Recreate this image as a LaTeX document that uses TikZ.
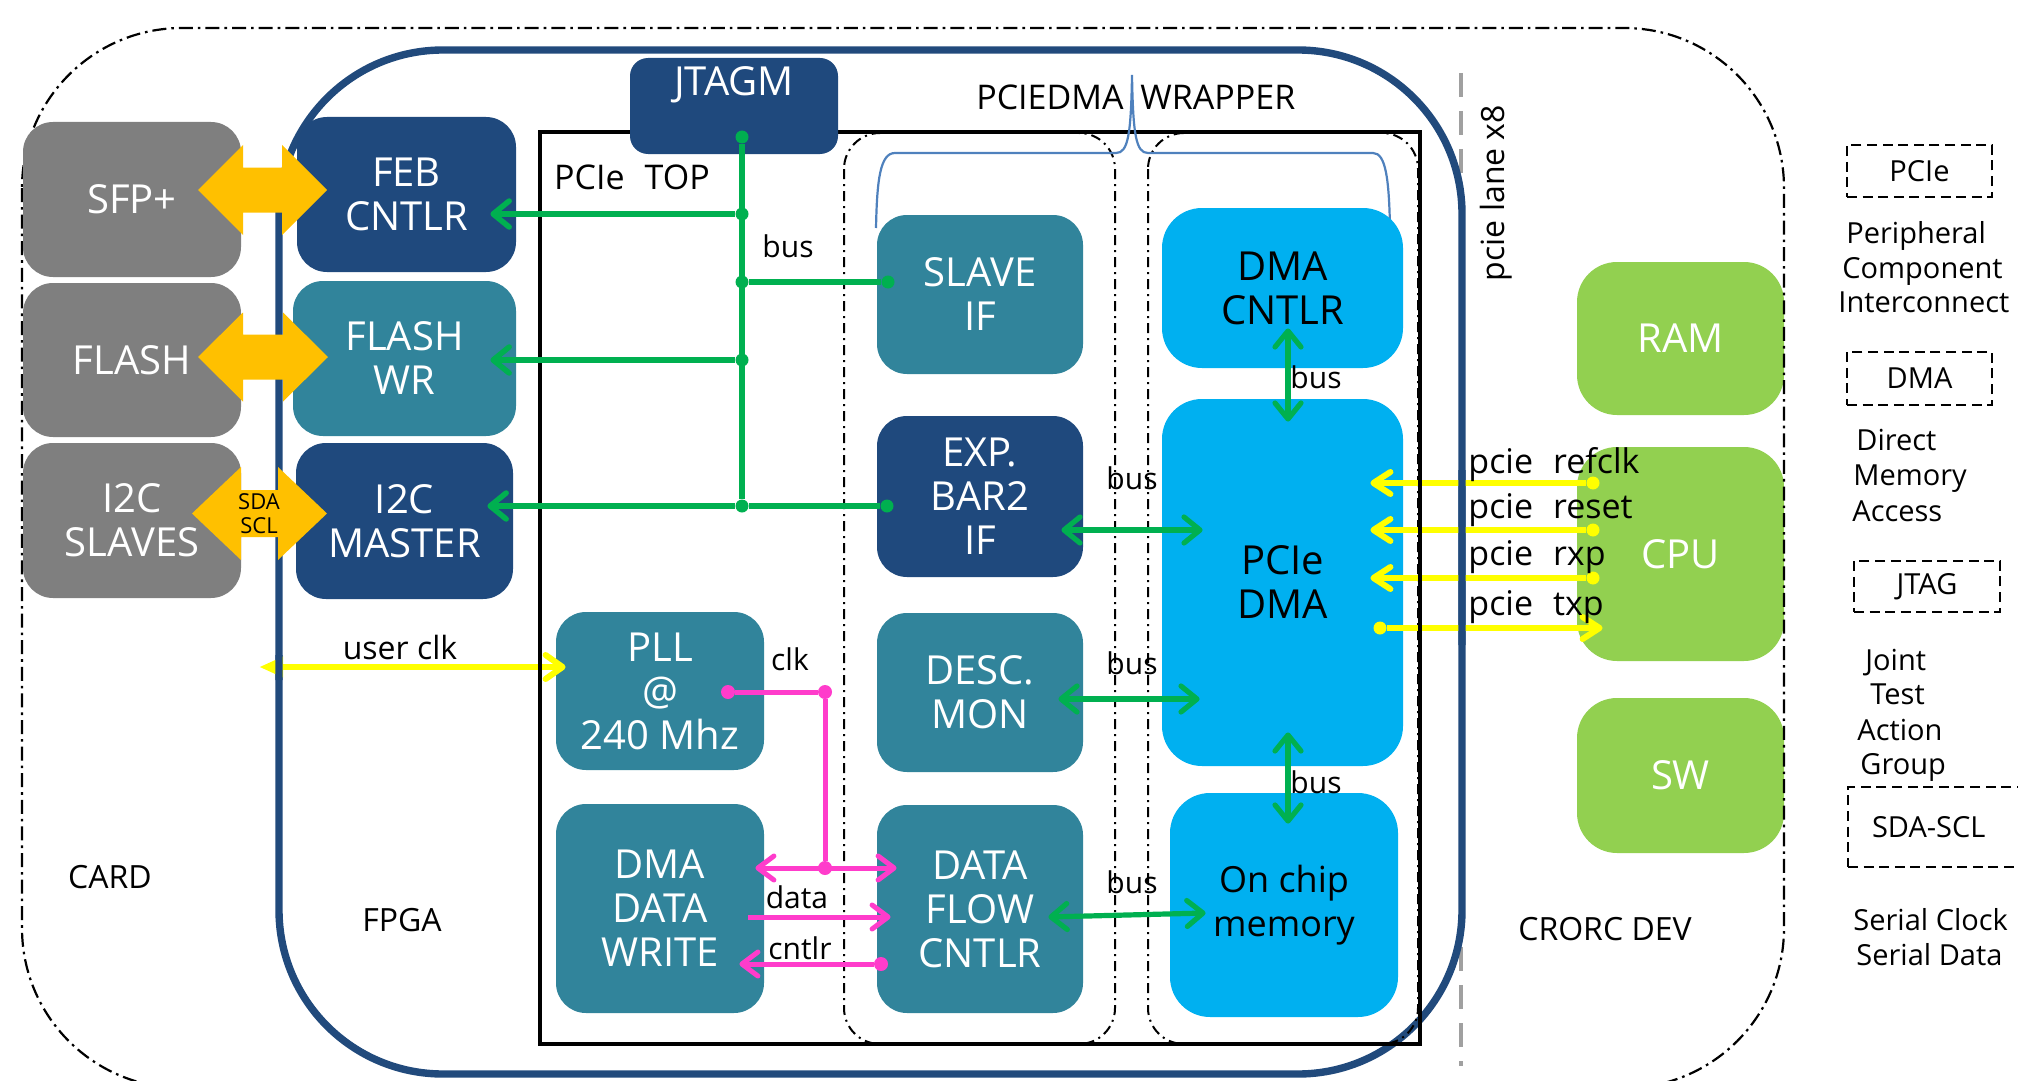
\documentclass[tikz,border=0pt]{standalone}
\usepackage{fontspec}
\setmainfont{Open Sans}
\usetikzlibrary{arrows.meta}

\definecolor{navy}{HTML}{1F497D}
\definecolor{tealcol}{HTML}{31849B}
\definecolor{stone}{HTML}{7F7F7F}
\definecolor{sky}{HTML}{00B0F0}
\definecolor{leaf}{HTML}{92D050}
\definecolor{amber}{HTML}{FFC000}
\definecolor{busgreen}{HTML}{00B050}
\definecolor{rosewire}{HTML}{FF3CCB}
\definecolor{lanecol}{HTML}{FFFF00}
\definecolor{bracecol}{HTML}{4F81BD}
\definecolor{frameblue}{HTML}{214A7C}
\definecolor{lanegrey}{HTML}{A0A0A0}

% fat double arrow: centre x, centre y, half length, half head width, half shaft width, head length
\newcommand\fatlink[6]{%
  \fill[amber] (#1-#3,#2) -- (#1-#3+#6,#2-#4) -- (#1-#3+#6,#2-#5) -- (#1+#3-#6,#2-#5)
    -- (#1+#3-#6,#2-#4) -- (#1+#3,#2) -- (#1+#3-#6,#2+#4) -- (#1+#3-#6,#2+#5)
    -- (#1-#3+#6,#2+#5) -- (#1-#3+#6,#2+#4) -- cycle;}

\begin{document}
\begin{tikzpicture}[x=0.5pt,y=-0.5pt,
  blockbase/.style={rounded corners=15pt, inner sep=0pt, align=center,
    font=\fontsize{20pt}{22pt}\selectfont},
  navybox/.style={blockbase, fill=navy, text=white},
  tealbox/.style={blockbase, fill=tealcol, text=white},
  greybox/.style={blockbase, fill=stone, text=white},
  skybox/.style={blockbase, fill=sky, text=black, rounded corners=20pt},
  leafbox/.style={blockbase, fill=leaf, text=white, rounded corners=20pt},
  lbl/.style={inner sep=0pt, font=\fontsize{16pt}{18pt}\selectfont},
  biglbl/.style={inner sep=0pt, font=\fontsize{17pt}{19pt}\selectfont},
  buslbl/.style={inner sep=0pt, font=\fontsize{15pt}{17pt}\selectfont},
  keytext/.style={inner sep=0pt, anchor=base west, font=\fontsize{14.5pt}{16pt}\selectfont},
  keybox/.style={draw, line width=1.3pt, dash pattern=on 5pt off 2.8pt, inner sep=0pt,
    font=\fontsize{14.5pt}{16pt}\selectfont},
  busline/.style={draw=busgreen, line width=2.75pt},
  busto/.style={busline, -{Straight Barb[length=8pt,width=13pt,round]}},
  busboth/.style={busline, line width=2.6pt,
    {Straight Barb[length=8pt,width=13pt,round]}-{Straight Barb[length=8pt,width=13pt,round]}},
  gdot/.style={circle, fill=busgreen, inner sep=0pt, minimum size=6.5pt},
  wire/.style={draw=rosewire, line width=2.5pt},
  wireto/.style={wire, -{Straight Barb[length=8pt,width=12pt,round]}},
  wireboth/.style={wire,
    {Straight Barb[length=8pt,width=12pt,round]}-{Straight Barb[length=8pt,width=12pt,round]}},
  pdot/.style={circle, fill=rosewire, inner sep=0pt, minimum size=7pt},
  lanewire/.style={draw=lanecol, line width=3pt},
  laneto/.style={lanewire, -{Straight Barb[length=8.5pt,width=11pt,round]}},
  ydot/.style={circle, fill=lanecol, inner sep=0pt, minimum size=6.5pt},
  cardline/.style={line width=1.1pt, dash pattern=on 7pt off 2.5pt on 1.3pt off 2.5pt,
    rounded corners=80pt},
  fpgaline/.style={draw=frameblue, line width=3.7pt, rounded corners=82pt},
  topline/.style={draw=black, line width=1.7pt},
  colline/.style={line width=1pt, dash pattern=on 5pt off 2.5pt on 1pt off 2.5pt,
    rounded corners=18pt},
]
\useasboundingbox (0,0) rectangle (2018,1081);
\clip (0,0) rectangle (2018,1081);

% host side blocks
\node[leafbox, minimum width=103.5pt, minimum height=76.5pt] (ram) at (1680.5,338.5) {RAM};
\node[leafbox, minimum width=103.5pt, minimum height=107pt] (cpu) at (1680.5,554) {CPU};
\node[leafbox, minimum width=103.5pt, minimum height=77.5pt] (sw) at (1680.5,775.5) {SW};

% card and device outlines
\draw[cardline] (22,28) rectangle (1784,1088);
\draw[draw=lanegrey, line width=2.4pt, dash pattern=on 12pt off 7pt] (1461,73) -- (1461,1066);
\draw[fpgaline] (279,50) rectangle (1462,1074);
\draw[topline] (540,132) rectangle (1420,1044);
\draw[colline] (844,133) rectangle (1115,1044);
\draw[colline] (1148,133) rectangle (1418,1044);

% wrapper brace
\draw[bracecol, line width=1.1pt] (876,228) .. controls (877,180) and (880,153) .. (895,153)
  -- (1116,153) .. controls (1128,153) and (1131,135) .. (1132,75)
  .. controls (1133,135) and (1136,153) .. (1148,153)
  -- (1373,153) .. controls (1386,153) and (1389,180) .. (1390,228);

% card peripherals
\node[greybox, minimum width=109pt, minimum height=77.5pt] (sfp) at (132,199.5) {SFP+};
\node[greybox, minimum width=109pt, minimum height=77pt] (flash) at (132,360) {FLASH};
\node[greybox, minimum width=109pt, minimum height=77.5pt] (i2cs) at (132,520.5) {I2C\\SLAVES};

% FPGA blocks
\node[navybox, minimum width=109.5pt, minimum height=77.5pt] (feb) at (406.5,194.5) {FEB\\CNTLR};
\node[tealbox, minimum width=111.5pt, minimum height=77.5pt] (flashwr) at (404.5,358.5) {FLASH\\WR};
\node[navybox, minimum width=108.5pt, minimum height=78pt] (i2cm) at (404.5,521) {I2C\\MASTER};
\node[navybox, minimum width=104pt, minimum height=48pt, rounded corners=9pt] (jtagm) at (734,106) {};
\node[inner sep=0pt, text=white, font=\fontsize{20pt}{22pt}\selectfont] (jtagmname) at (734,85) {JTAGM};
\node[tealbox, minimum width=103pt, minimum height=79.5pt] (slave) at (980,294.5) {SLAVE\\IF};
\node[navybox, minimum width=103pt, minimum height=80.5pt] (expbar) at (980,496.5) {EXP.\\BAR2\\IF};
\node[tealbox, minimum width=103pt, minimum height=79.5pt] (desc) at (980,692.5) {DESC.\\MON};
\node[tealbox, minimum width=103pt, minimum height=104pt] (dataflow) at (980,909) {DATA\\FLOW\\CNTLR};
\node[tealbox, minimum width=104pt, minimum height=79pt] (pll) at (660,691) {PLL\\@\\240 Mhz};
\node[tealbox, minimum width=104pt, minimum height=104.5pt] (dmawrite) at (660,908.5) {DMA\\DATA\\WRITE};
\node[skybox, minimum width=120.5pt, minimum height=80pt] (dmacntlr) at (1282.5,288) {DMA\\CNTLR};
\node[skybox, minimum width=120.5pt, minimum height=183.5pt] (pciedma) at (1282.5,582.5) {PCIe\\DMA};
\node[skybox, minimum width=114pt, minimum height=112pt, font=\fontsize{18pt}{22pt}\selectfont]
  (onchip) at (1284,905) {On chip\\memory};

% peripheral links
\fatlink{262.5}{190}{64.5}{45}{22.5}{45}
\fatlink{263}{357}{65}{44.5}{22.5}{45}
\fatlink{259.5}{513.5}{67.5}{46.5}{23.5}{49}
\node[inner sep=0pt, align=center, font=\fontsize{11pt}{12pt}\selectfont] (sdascl) at (259,514) {SDA\\SCL};

% register bus
\node[gdot] (j0) at (742,137) {};
\node[gdot] (j1) at (742,214) {};
\node[gdot] (j2) at (742,282) {};
\node[gdot] (j3) at (742,360) {};
\node[gdot] (j4) at (742,506) {};
\node[gdot] (js) at (888,282) {};
\node[gdot] (je) at (887,506) {};
\draw[busline] (j0) -- (j4);
\draw[busto, shorten >=-13pt] (j1) -- (j1 -| feb.east);
\draw[busto, shorten >=-13pt] (j3) -- (j3 -| flashwr.east);
\draw[busto, shorten >=-13pt] (j4) -- (j4 -| i2cm.east);
\draw[busline] (j2) -- (js);
\draw[busline] (j4) -- (je);

% DMA buses
\draw[busboth] ([shift={(5.5,-40)}]dmacntlr.south) -- ([shift={(5.5,23)}]pciedma.north);
\draw[busboth] ([shift={(-22,33.5)}]expbar.east) -- ([shift={(41,-52.5)}]pciedma.west);
\draw[busboth] ([shift={(-25,6.5)}]desc.east) -- ([shift={(38,116.5)}]pciedma.west);
\draw[busboth] ([shift={(5.5,-34)}]pciedma.south) -- ([shift={(4,31)}]onchip.north);
\draw[busboth] ([shift={(-35,8)}]dataflow.east) -- ([shift={(36,8)}]onchip.west);

% clock, data and control wires
\node[pdot] (c1) at (728,692) {};
\node[pdot] (c2) at (825,692) {};
\node[pdot] (c3) at (825,868) {};
\node[pdot] (c4) at (881,964) {};
\draw[wire] (c1) -- (c2) -- (c3);
\draw[wireboth] ([shift={(-9,-40.5)}]dmawrite.east) -- ([shift={(20,-41)}]dataflow.west);
\draw[wireto] ([shift={(-16,8.5)}]dmawrite.east) -- ([shift={(14,8)}]dataflow.west);
\draw[wireto] (c4) -- ([shift={(-25,55.5)}]dmawrite.east);

% user clock and pcie lanes
\coordinate (uclk) at (259,667);
\draw[lanewire, {Triangle[length=12pt,width=9.5pt]}-{Straight Barb[length=8.5pt,width=12pt,round]}]
  (uclk) -- ([shift={(10,-24)}]pll.west);
\node[ydot] (y1) at (1593,483) {};
\node[ydot] (y2) at (1593,530) {};
\node[ydot] (y3) at (1593,578) {};
\node[ydot] (y4) at (1380,628) {};
\draw[laneto, shorten >=-16.5pt] (y1) -- (y1 -| pciedma.east);
\draw[laneto, shorten >=-16.5pt] (y2) -- (y2 -| pciedma.east);
\draw[laneto, shorten >=-16.5pt] (y3) -- (y3 -| pciedma.east);
\draw[laneto, shorten >=-13pt] (y4) -- (y4 -| cpu.west);

% frame edges stay on top where the wires cross them
\begin{scope}
  \clip (1405,470) rectangle (1480,645) (265,655) rectangle (555,680);
  \draw[fpgaline] (279,50) rectangle (1462,1074);
  \draw[topline] (540,132) rectangle (1420,1044);
\end{scope}

% labels
\node[biglbl] (toplabel) at (632,177) {PCIe\hspace{10pt}TOP};
\node[biglbl, anchor=east] (wrapleft) at (1124,97) {PCIEDMA};
\node[biglbl, anchor=west] (wrapright) at (1140,97) {WRAPPER};
\node[lbl, rotate=90] (lanes) at (1496,193) {pcie lane x8};
\node[lbl] (cardname) at (110,877) {CARD};
\node[lbl] (fpganame) at (402,920) {FPGA};
\node[lbl] (hostname) at (1605,929) {CRORC DEV};
\node[lbl] (uclklabel) at (400,647) {user clk};
\node[buslbl] (clklabel) at (790,659) {clk};
\node[buslbl] (datalabel) at (797,897) {data};
\node[buslbl] (cntlrlabel) at (800,948) {cntlr};
\node[buslbl] (bus0) at (788,246) {bus};
\node[buslbl] (bus1) at (1316,377) {bus};
\node[buslbl] (bus2) at (1132,478) {bus};
\node[buslbl] (bus3) at (1132,663) {bus};
\node[buslbl] (bus4) at (1316,782) {bus};
\node[buslbl] (bus5) at (1132,882) {bus};
\node[biglbl, anchor=base west] (refclk) at (1468,473) {pcie\hspace{10pt}refclk};
\node[biglbl, anchor=base west] (reset) at (1468,518) {pcie\hspace{10pt}reset};
\node[biglbl, anchor=base west] (rxp) at (1468,565) {pcie\hspace{10pt}rxp};
\node[biglbl, anchor=base west] (txp) at (1468,615) {pcie\hspace{10pt}txp};

% key
\node[keybox, minimum width=72.5pt, minimum height=26pt] (kpcie) at (1919.5,171) {PCIe};
\node[keytext] (k1a) at (1846,243) {Peripheral};
\node[keytext] (k1b) at (1842,278) {Component};
\node[keytext] (k1c) at (1838,312) {Interconnect};
\node[keybox, minimum width=72.5pt, minimum height=26.5pt] (kdma) at (1919.5,378.5) {DMA};
\node[keytext] (k2a) at (1856,450) {Direct};
\node[keytext] (k2b) at (1853,485) {Memory};
\node[keytext] (k2c) at (1852,521) {Access};
\node[keybox, minimum width=73pt, minimum height=25.5pt] (kjtag) at (1927,586.5) {JTAG};
\node[keytext] (k3a) at (1865,670) {Joint};
\node[keytext] (k3b) at (1870,704) {Test};
\node[keytext] (k3c) at (1857,740) {Action};
\node[keytext] (k3d) at (1860,774) {Group};
\node[keybox, minimum width=91pt, minimum height=40pt, text width=91pt, align=left] (ksda) at (1939,827) {\hspace*{12pt}SDA-SCL};
\node[keytext] (k4a) at (1853,930) {Serial Clock};
\node[keytext] (k4b) at (1856,965) {Serial Data};
\end{tikzpicture}
\end{document}
